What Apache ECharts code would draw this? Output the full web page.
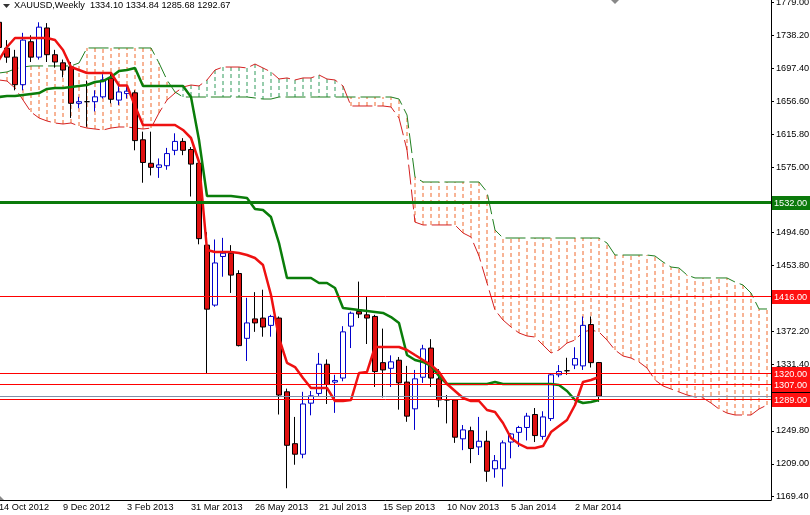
<!DOCTYPE html>
<html>
<head>
<meta charset="utf-8">
<script src="https://cdn.jsdelivr.net/npm/echarts@6/dist/echarts.min.js"></script>
<style>
html,body{margin:0;padding:0;background:#fff;}
#c{width:810px;height:515px;}
</style>
</head>
<body>
<div id="c"></div>
<script>
// ---------- DATA ----------
const startWeek = '2012-10-14';
const weekCount = 97;
const tickLabels = ['14 Oct 2012','9 Dec 2012','3 Feb 2013','31 Mar 2013','26 May 2013','21 Jul 2013','15 Sep 2013','10 Nov 2013','5 Jan 2014','2 Mar 2014'];
const yTickValues = [1169.40,1209.00,1249.80,1331.40,1372.20,1453.80,1494.60,1575.00,1615.80,1656.60,1697.40,1738.20,1779.00];

const open  = [1754,1722,1711,1677,1730,1711,1747,1714,1704,1699,1654,1656,1656,1662,1685,1658,1666,1667,1609,1580,1575,1577,1596,1607,1597,1580,1479,1405,1465,1469,1444,1364,1388,1389,1380,1389,1298,1234,1221,1284,1296,1332,1310,1315,1379,1397,1393,1391,1334,1327,1337,1310,1277,1316,1352,1314,1288,1288,1240,1250,1230,1237,1203,1203,1236,1248,1254,1270,1243,1265,1319,1324,1331,1330,1381,1334.10];
const high  = [1757,1732,1720,1741,1738,1754,1753,1720,1708,1705,1662,1682,1670,1690,1692,1676,1676,1670,1619,1619,1586,1599,1617,1611,1600,1584,1495,1486,1488,1479,1448,1414,1421,1424,1393,1391,1302,1267,1298,1299,1346,1338,1319,1379,1397,1434,1415,1393,1376,1343,1341,1330,1325,1356,1363,1326,1294,1288,1257,1255,1267,1250,1220,1238,1247,1256,1272,1278,1274,1321,1331,1340,1353,1391,1391,1334.84];
const low   = [1718,1704,1670,1670,1705,1708,1705,1698,1686,1636,1648,1625,1644,1660,1654,1652,1660,1596,1556,1565,1562,1572,1590,1590,1539,1480,1321,1403,1440,1420,1354,1336,1372,1366,1366,1270,1179,1208,1216,1269,1293,1283,1272,1311,1352,1389,1357,1304,1291,1304,1276,1261,1251,1309,1304,1279,1259,1235,1226,1210,1220,1187,1192,1181,1216,1230,1238,1236,1239,1262,1316,1319,1326,1325,1328,1285.68];
const close = [1723,1711,1677,1732,1711,1748,1714,1705,1695,1654,1656,1656,1662,1683,1659,1668,1669,1608,1581,1575,1578,1592,1607,1596,1579,1487,1400,1457,1469,1442,1355,1383,1383,1378,1391,1294,1232,1221,1283,1293,1332,1307,1312,1372,1395,1394,1389,1323,1325,1335,1309,1268,1314,1351,1315,1288,1288,1242,1251,1228,1237,1200,1213,1235,1246,1254,1268,1244,1267,1319,1323,1324,1339,1380,1334,1292.67];

const tenkan = [1707.5,1723.5,1734.6,1734.6,1734.6,1734.6,1734.6,1732.1,1719.8,1698.8,1695.1,1691.4,1691.4,1691.4,1691.4,1676,1676,1650.7,1627.3,1627.3,1627.3,1627.3,1627.3,1621.1,1611.2,1581.6,1473,1470.5,1470.5,1470.5,1469.3,1466.8,1463.1,1454.5,1417.5,1364.4,1333.6,1328.6,1315,1302.7,1302.7,1302.7,1286.7,1286.7,1287.9,1321.2,1322.5,1353.3,1353.3,1353.3,1353.3,1349.6,1343.4,1337.3,1331.1,1322.5,1307.6,1299,1290.4,1286.7,1286.7,1275.6,1273.1,1259.5,1241,1233.6,1228.7,1228.7,1231.1,1248.4,1255.8,1263.2,1281.7,1310.1,1312.6,1316.3];
const kijun  = [1661.8,1663,1663,1664.3,1665.5,1666.7,1671.7,1672.9,1672.9,1674.1,1675.4,1676.6,1680.3,1681.5,1686.5,1693.9,1695.1,1697.6,1675.4,1675.4,1675.4,1675.4,1675.4,1675.4,1661.8,1608.8,1539.6,1539.6,1539.6,1539.6,1538.4,1537.2,1523.6,1522.4,1513.7,1481.6,1438.5,1438.5,1438.5,1438.5,1432.3,1432.3,1426.1,1401.4,1400.2,1398.9,1397.7,1396.5,1395.3,1390.3,1382.9,1343.4,1337.3,1334.8,1329.9,1317.5,1307.6,1307.6,1307.6,1307.6,1307.6,1307.6,1310.1,1307.6,1307.6,1307.6,1307.6,1307.6,1307.6,1307.6,1306.4,1299,1287.9,1284.2,1285.4,1287.9];
const spanA  = [1682.8,1681.5,1672.9,1658.1,1643.3,1635.9,1632.2,1629.7,1628.5,1629.7,1626,1623.5,1622.3,1621.1,1623.5,1624.8,1624.8,1623.5,1622.3,1623.5,1642.1,1658.1,1666.7,1674.1,1676.6,1675.4,1682.8,1695.1,1698.8,1698.8,1698.8,1697.6,1702.5,1697.6,1692.7,1684,1685.3,1682.8,1685.3,1685.3,1689,1684,1682.8,1675.4,1650.7,1650.7,1650.7,1650.7,1650.7,1649.5,1635.9,1596.4,1507.4,1503.9,1503.9,1503.9,1503.9,1503.9,1494,1489,1465.6,1432.3,1398.9,1386.6,1378,1370.6,1366.9,1365.6,1355.8,1345.9,1349.6,1358.2,1361.9,1371.8,1374.3,1371.8,1361.9,1349.6,1342.2,1339.7,1334.8,1327.4,1312.6,1305.2,1301.5,1297.8,1294.1,1291.6,1290.4,1284.2,1276.8,1271.8,1269.4,1269.4,1269.4,1276.8,1281.7];
const spanB  = [1691.4,1692.7,1696.4,1698.8,1700.1,1700.1,1700.1,1700.1,1700.1,1700.1,1703.8,1722.3,1722.3,1722.3,1722.3,1722.3,1722.3,1722.3,1722.3,1722.3,1703.8,1682.8,1668,1661.8,1661.8,1661.8,1661.8,1661.8,1661.8,1661.8,1661.8,1661.8,1660.6,1659.3,1659.3,1661.8,1661.8,1661.8,1661.8,1661.8,1661.8,1661.8,1661.8,1661.8,1661.8,1661.8,1661.8,1661.8,1661.8,1661.8,1659.3,1639.6,1563.1,1556.9,1556.9,1556.9,1556.9,1556.9,1556.9,1556.9,1556.9,1544.6,1497.7,1487.8,1487.8,1487.8,1487.8,1487.8,1487.8,1487.8,1487.8,1487.8,1487.8,1487.8,1487.8,1487.8,1481.6,1466.8,1466.8,1466.8,1466.8,1466.8,1465.6,1458.2,1452,1450.8,1442.2,1438.5,1438.5,1438.5,1438.5,1438.5,1433.5,1429.8,1419.9,1400.2,1400.2];

// horizontal price levels: value, kind (0 = bid line, 1 = green level, 2 = red level)
const levelValues = [1292.67, 1532, 1416, 1320, 1307, 1289];
const levelKinds  = [0, 1, 2, 2, 2, 2];
const titleText = 'XAUUSD,Weekly  1334.10 1334.84 1285.68 1292.67';

// ---------- BUILD ----------
const MONTHS = ['Jan','Feb','Mar','Apr','May','Jun','Jul','Aug','Sep','Oct','Nov','Dec'];
const categories = [];
{
  const t0 = Date.parse(startWeek + 'T00:00:00Z');
  for (let i = 0; i < weekCount; i++) {
    const d = new Date(t0 + i * 7 * 86400000);
    categories.push(d.getUTCDate() + ' ' + MONTHS[d.getUTCMonth()] + ' ' + d.getUTCFullYear());
  }
}
const FONT = '"Liberation Sans", Arial, sans-serif';
const FS = 9.2;

const candleData = open.map((o, i) => {
  const item = { value: [o, close[i], low[i], high[i]] };
  if (o === close[i]) item.itemStyle = { borderColor: '#000', borderColor0: '#000', color: '#000', color0: '#000' };
  return item;
});
const hatchData = spanA.map((a, i) => [i, a, spanB[i]]);
const levelData = levelValues.map((v, i) => [0, v, levelKinds[i]]);
const KIND_STYLE = [
  { line: '#8090a8', width: 1, box: '#000000' },
  { line: '#0b7a0b', width: 3, box: '#0b7a0b' },
  { line: '#ff0000', width: 1, box: '#ff1010' }
];

const tickFn = (idx, val) => tickLabels.indexOf(val) >= 0;

const chart = echarts.init(document.getElementById('c'), null, { renderer: 'canvas' });
chart.setOption({
  animation: false,
  backgroundColor: '#fff',
  textStyle: { fontFamily: FONT },
  grid: { left: -5, right: 39, top: 0, bottom: 15, containLabel: false, outerBoundsMode: 'none' },
  xAxis: {
    type: 'category', data: categories, boundaryGap: true,
    axisLine: { lineStyle: { color: '#000', width: 1 } },
    axisTick: { alignWithLabel: true, interval: tickFn, length: 4, lineStyle: { color: '#000' } },
    axisLabel: { interval: tickFn, align: 'left', margin: 3, color: '#000', fontSize: FS, fontFamily: FONT, hideOverlap: false },
    splitLine: { show: false }
  },
  yAxis: {
    type: 'value', position: 'right', min: 1164.5, max: 1781.5, scale: true,
    axisLine: { show: true, lineStyle: { color: '#000', width: 1 } },
    axisTick: { show: true, length: 3, customValues: yTickValues, lineStyle: { color: '#000' } },
    axisLabel: { customValues: yTickValues, margin: 5, color: '#000', fontSize: FS, fontFamily: FONT,
      formatter: v => v.toFixed(2) },
    splitLine: { show: false }
  },
  graphic: [
    { type: 'polygon', shape: { points: [[3, 4], [10, 4], [6.5, 8]] }, style: { fill: '#333' } },
    { type: 'text', left: 14, top: 1, style: { text: titleText, fill: '#000', font: FS + 'px ' + FONT } },
    { type: 'polygon', shape: { points: [[611, 0], [619, 0], [615, 4]] }, style: { fill: '#888' } },
    { type: 'polygon', shape: { points: [[0, 496], [0, 500], [4, 500]] }, style: { fill: '#888' } }
  ],
  series: [
    {
      type: 'custom', name: 'cloud', clip: true, z: 1,
      data: hatchData,
      renderItem: (params, api) => {
        const a = api.value(1), b = api.value(2);
        const p1 = api.coord([api.value(0), a]);
        const p2 = api.coord([api.value(0), b]);
        return { type: 'line', shape: { x1: p1[0], y1: p1[1], x2: p2[0], y2: p2[1] },
          style: { stroke: a < b ? '#f0692c' : '#2e9a5a', lineWidth: 1, lineDash: [4, 3] } };
      }
    },
    { type: 'line', name: 'spanA', data: spanA, symbol: 'none', z: 2,
      lineStyle: { color: '#d42020', width: 1, type: [20, 5] } },
    { type: 'line', name: 'spanB', data: spanB, symbol: 'none', z: 2,
      lineStyle: { color: '#1f7f1f', width: 1, type: [20, 5] } },
    {
      type: 'candlestick', name: 'XAUUSD', data: candleData, barWidth: 5, z: 4,
      itemStyle: { color: '#ffffff', color0: '#e01010', borderColor: '#0000cc', borderColor0: '#000000', borderWidth: 1 }
    },
    { type: 'line', name: 'kijun', data: kijun, symbol: 'none', z: 5,
      lineStyle: { color: '#0a7d0a', width: 2.5 } },
    { type: 'line', name: 'tenkan', data: tenkan, symbol: 'none', z: 6,
      lineStyle: { color: '#ee1111', width: 2.5 } },
    {
      type: 'custom', name: 'levels', clip: false, z: 8,
      data: levelData,
      encode: { x: 0, y: 1 },
      renderItem: (params, api) => {
        const v = api.value(1);
        const st = KIND_STYLE[api.value(2)];
        const cs = params.coordSys;
        let y = api.coord([0, v])[1];
        y = st.width % 2 === 1 ? Math.round(y - 0.5) + 0.5 : Math.round(y);
        const xr = cs.x + cs.width;
        return { type: 'group', children: [
          { type: 'line', shape: { x1: Math.max(cs.x, 0), y1: y, x2: xr, y2: y }, style: { stroke: st.line, lineWidth: st.width } },
          { type: 'rect', shape: { x: xr + 1, y: Math.round(y) - 7, width: 40, height: 14 }, style: { fill: st.box } },
          { type: 'text', style: { text: v.toFixed(2), x: xr + 3, y: Math.round(y) + 0.5, verticalAlign: 'middle',
              fill: '#fff', font: FS + 'px ' + FONT } }
        ] };
      }
    }
  ]
});
</script>
</body>
</html>
